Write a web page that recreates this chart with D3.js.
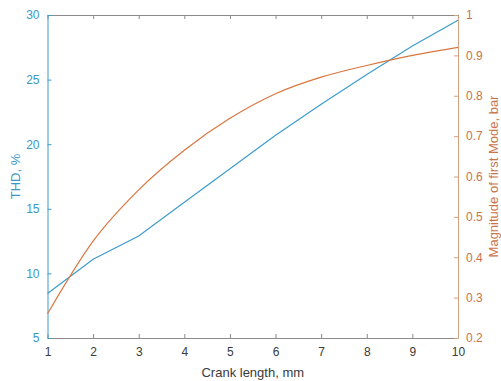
<!DOCTYPE html>
<html>
<head>
<meta charset="utf-8">
<script src="https://cdn.jsdelivr.net/npm/d3@7"></script>
<style>
  html, body { margin: 0; padding: 0; background: #fff; }
  svg { display: block; font-family: "Liberation Sans", Arial, sans-serif; }
</style>
</head>
<body>
<svg id="chart" width="501" height="381"></svg>
<script>
// Crank length (mm) on the shared x axis
const crankLength = [1, 2, 3, 4, 5, 6, 7, 8, 9, 10];
// Total harmonic distortion, % (left axis)
const thd = [8.45, 11.1, 12.9, 15.5, 18.1, 20.7, 23.1, 25.4, 27.6, 29.6];
// Magnitude of the first mode, bar (right axis)
const firstMode = [0.26, 0.44, 0.567, 0.665, 0.744, 0.805, 0.846, 0.875, 0.9, 0.92];

const xTicks = [1, 2, 3, 4, 5, 6, 7, 8, 9, 10];
const leftTicks = [5, 10, 15, 20, 25, 30];
const rightTicks = [0.2, 0.3, 0.4, 0.5, 0.6, 0.7, 0.8, 0.9, 1];

const blue = "#3d9ccc";
const blueText = "#3a97c6";
const orange = "#d9763f";
const orangeText = "#c8744a";
const orangeAxis = "#d4a07e";
const grey = "#8a8a8a";

const margin = { top: 15, right: 43, bottom: 43, left: 47.5 };
const W = 501, H = 381;
const iw = W - margin.left - margin.right;
const ih = H - margin.top - margin.bottom;

const svg = d3.select("#chart");
const g = svg.append("g").attr("transform", `translate(${margin.left},${margin.top})`);

const x = d3.scaleLinear().domain([1, 10]).range([0, iw]);
const yL = d3.scaleLinear().domain([5, 30]).range([ih, 0]);
const yR = d3.scaleLinear().domain([0.2, 1]).range([ih, 0]);

const tickLen = 4;

// Bottom axis (ticks point inward)
const xAxis = g.append("g").attr("transform", `translate(0,${ih})`)
  .call(d3.axisBottom(x).tickValues(xTicks).tickFormat(d3.format("d"))
    .tickSizeInner(-tickLen).tickSizeOuter(0).tickPadding(9));
xAxis.select(".domain").attr("stroke", grey);
xAxis.selectAll(".tick line").attr("stroke", grey);
xAxis.selectAll("text").attr("fill", "#3a3a3a").attr("font-size", 12);

// Top axis line with mirrored ticks
const xTop = g.append("g")
  .call(d3.axisTop(x).tickValues(xTicks).tickFormat("")
    .tickSizeInner(-tickLen).tickSizeOuter(0));
xTop.select(".domain").attr("stroke", grey);
xTop.selectAll(".tick line").attr("stroke", grey);

// Left axis (THD)
const leftAxis = g.append("g")
  .call(d3.axisLeft(yL).tickValues(leftTicks)
    .tickSizeInner(-tickLen).tickSizeOuter(0).tickPadding(8));
leftAxis.select(".domain").attr("stroke", blue);
leftAxis.selectAll(".tick line").attr("stroke", blue);
leftAxis.selectAll("text").attr("fill", blueText).attr("font-size", 12);

// Right axis (first mode magnitude)
const rightAxis = g.append("g").attr("transform", `translate(${iw},0)`)
  .call(d3.axisRight(yR).tickValues(rightTicks).tickFormat(d => d === 1 ? "1" : d3.format(".1f")(d))
    .tickSizeInner(-tickLen).tickSizeOuter(0).tickPadding(8));
rightAxis.select(".domain").attr("stroke", orangeAxis);
rightAxis.selectAll(".tick line").attr("stroke", orangeAxis);
rightAxis.selectAll("text").attr("fill", orangeText).attr("font-size", 12);

// Series lines
const thdLine = d3.line()
  .x((d, i) => x(crankLength[i]))
  .y(d => yL(d));
const modeLine = d3.line()
  .x((d, i) => x(crankLength[i]))
  .y(d => yR(d))
  .curve(d3.curveMonotoneX);

g.append("path").datum(thd)
  .attr("d", thdLine).attr("fill", "none")
  .attr("stroke", blue).attr("stroke-width", 1.2);

g.append("path").datum(firstMode)
  .attr("d", modeLine).attr("fill", "none")
  .attr("stroke", orange).attr("stroke-width", 1.2);

// Axis titles
svg.append("text")
  .attr("x", margin.left + iw / 2).attr("y", 377)
  .attr("text-anchor", "middle").attr("font-size", 13)
  .attr("fill", "#3a3a3a").text("Crank length, mm");

svg.append("text")
  .attr("transform", `translate(20,${margin.top + ih / 2}) rotate(-90)`)
  .attr("text-anchor", "middle").attr("font-size", 13)
  .attr("fill", blueText).text("THD, %");

svg.append("text")
  .attr("transform", `translate(498,${margin.top + ih / 2}) rotate(-90)`)
  .attr("text-anchor", "middle").attr("font-size", 13)
  .attr("fill", orangeText).text("Magnitude of first Mode, bar");
</script>
</body>
</html>
